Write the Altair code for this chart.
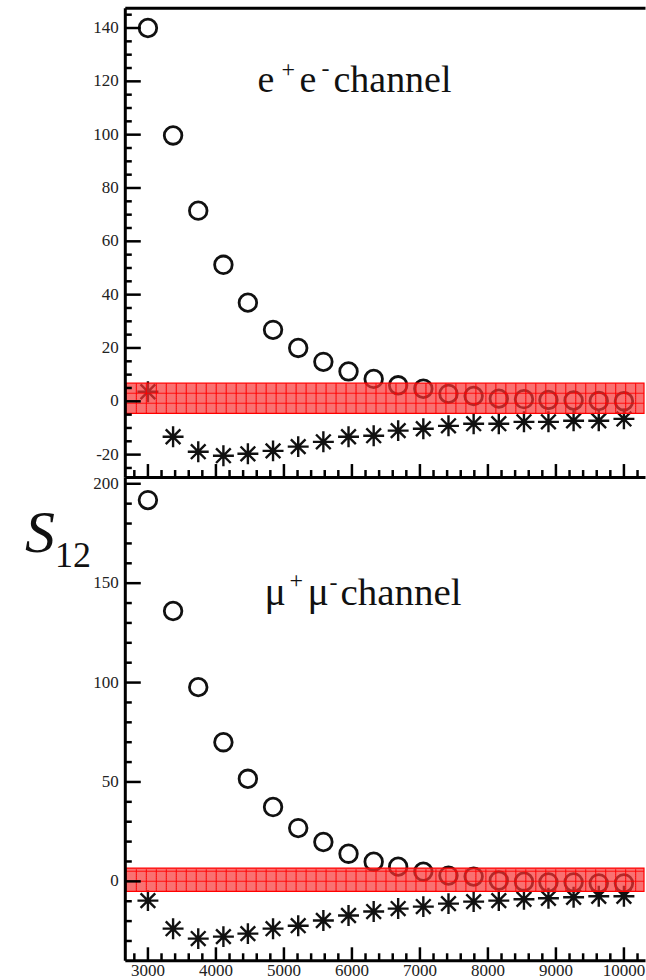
import altair as alt
import pandas as pd

# ---------------- data ----------------
X = [3000, 3370, 3740, 4110, 4470, 4840, 5210, 5580, 5950, 6320,
     6680, 7050, 7420, 7790, 8160, 8530, 8890, 9260, 9630, 10000]

EE_CIRCLE = [140, 99.7, 71.5, 51.2, 37, 26.8, 20, 14.8, 11.2, 8.4,
             6, 4.7, 2.8, 2, 1, 0.8, 0.5, 0.3, 0.1, 0]
EE_STAR = [3.6, -13.3, -18.9, -20.4, -19.7, -18.6, -17, -15.2, -13.3, -12.9,
           -11, -10.3, -9.2, -8.4, -8.4, -7.7, -7.7, -7.3, -7.3, -6.6]

MM_CIRCLE = [191.8, 136, 97.7, 70, 51.6, 37.4, 26.8, 19.8, 13.9, 9.9,
             7.4, 4.9, 2.9, 2.4, 0.4, -0.2, -0.5, -0.5, -1, -1]
MM_STAR = [-9.7, -23.8, -28.8, -27.8, -26.3, -23.8, -22.3, -19.7, -17.2, -15.2,
           -13.7, -12.7, -11.2, -10.2, -9.7, -9, -8.5, -8, -7.5, -7.5]

EE_BAND = [-4.5, 6.8]
MM_BAND = [-5.0, 6.7]

X_LABELS = [3000, 4000, 5000, 6000, 7000, 8000, 9000, 10000]
X_MINOR = [v for v in range(2800, 10301, 200) if v % 1000 != 0]
TOP_Y_LABELS = [-20, 0, 20, 40, 60, 80, 100, 120, 140]
TOP_Y_MINOR = [v for v in range(-25, 146, 5) if v % 20 != 0]
BOT_Y_LABELS = [0, 50, 100, 150, 200]
BOT_Y_MINOR = [v for v in range(-30, 201, 10) if v % 50 != 0]

X_DOMAIN = [2660, 10310]
TOP_Y_DOMAIN = [-28.4, 147.6]
BOT_Y_DOMAIN = [-39.7, 203.4]

W = 521
H_TOP = 470
H_BOT = 484

FONT = "Liberation Serif"
STAR = "M0,-1L0,1M-1,0L1,0M-0.7,-0.7L0.7,0.7M-0.7,0.7L0.7,-0.7"
CELL = 10  # spacing of the grid texture inside the red band (px)


def txt(s, x, y, size, style="normal"):
    return alt.Chart(pd.DataFrame({"t": [s]})).mark_text(
        text=s, font=FONT, fontSize=size, fontStyle=style, align="left",
        baseline="alphabetic", color="#111"
    ).encode(x=alt.value(x), y=alt.value(y))


def panel(circ, star, band, ydom, H, ylabels, yminor, bottom, texts):
    df = pd.DataFrame({"x": X, "c": circ, "s": star})
    bdf = pd.DataFrame({"lo": [band[0]], "hi": [band[1]]})
    xs = alt.Scale(domain=X_DOMAIN, nice=False, zero=False)
    ys = alt.Scale(domain=ydom, nice=False, zero=False)

    frame_kw = dict(ticks=False, labels=False, domainWidth=3, domainColor="#000",
                    grid=False, title=None, zindex=1)
    circles = alt.Chart(df).mark_point(
        shape="circle", size=310, filled=False, strokeWidth=2.8, color="#111", opacity=1
    ).encode(
        x=alt.X("x:Q", scale=xs,
                axis=alt.Axis(orient="bottom" if bottom else "top", **frame_kw)),
        y=alt.Y("c:Q", scale=ys, axis=alt.Axis(orient="left", **frame_kw)),
    )
    stars = alt.Chart(df).mark_point(
        shape=STAR, size=440, filled=False, strokeWidth=2.4, color="#111", opacity=1
    ).encode(
        x=alt.X("x:Q", scale=xs, axis=None),
        y=alt.Y("s:Q", scale=ys, axis=None),
    )
    layers = [circles, stars]
    if not bottom:
        edge = alt.Chart(df).mark_point(opacity=0, size=1).encode(
            x=alt.X("x:Q", scale=xs, axis=alt.Axis(orient="top", offset=-H, **frame_kw)),
            y=alt.Y("c:Q", scale=ys, axis=None),
        )
        layers.append(edge)

    # red band with a grid texture, drawn over the markers
    band_px = (band[1] - band[0]) / (ydom[1] - ydom[0]) * H
    layers.append(alt.Chart(bdf).mark_rect(
        fill="#f73535", fillOpacity=0.7, stroke="#ff0000", strokeWidth=1.2
    ).encode(
        x=alt.value(0), x2=alt.value(W - 1),
        y=alt.Y("lo:Q", scale=ys, axis=None), y2="hi:Q",
    ))
    # vertical texture lines: thin dashed strips stacked over the band height
    off = 1.0
    while off < band_px - 0.5:
        layers.append(alt.Chart(bdf).mark_rule(
            color="#ff0000", strokeWidth=2.1, strokeDash=[1.2, CELL - 1.2],
            yOffset=-off, opacity=0.85
        ).encode(
            x=alt.value(1), x2=alt.value(W - 1),
            y=alt.Y("lo:Q", scale=ys, axis=None),
        ))
        off += 2.0
    # horizontal texture lines
    k = 1
    while band_px - k * CELL >= 3:
        layers.append(alt.Chart(bdf).mark_rule(
            color="#ff0000", strokeWidth=1.1, yOffset=-k * CELL, opacity=0.85
        ).encode(
            x=alt.value(1), x2=alt.value(W - 1),
            y=alt.Y("lo:Q", scale=ys, axis=None),
        ))
        k += 1

    # inward ticks drawn through the scales
    xmaj = pd.DataFrame({"v": X_LABELS, "lab": [str(v) for v in X_LABELS]})
    xmin = pd.DataFrame({"v": X_MINOR})
    ymaj = pd.DataFrame({"v": ylabels, "lab": [str(v) for v in ylabels]})
    ymin = pd.DataFrame({"v": yminor})
    rule_kw = dict(color="#000", strokeWidth=2.5)
    layers.append(alt.Chart(xmaj).mark_rule(**rule_kw).encode(
        x=alt.X("v:Q", scale=xs, axis=None), y=alt.value(H - 13), y2=alt.value(H)))
    layers.append(alt.Chart(xmin).mark_rule(**rule_kw).encode(
        x=alt.X("v:Q", scale=xs, axis=None), y=alt.value(H - 7), y2=alt.value(H)))
    layers.append(alt.Chart(ymaj).mark_rule(**rule_kw).encode(
        y=alt.Y("v:Q", scale=ys, axis=None), x=alt.value(0), x2=alt.value(16)))
    layers.append(alt.Chart(ymin).mark_rule(**rule_kw).encode(
        y=alt.Y("v:Q", scale=ys, axis=None), x=alt.value(0), x2=alt.value(7)))

    # tick labels
    layers.append(alt.Chart(ymaj).mark_text(
        font=FONT, fontSize=17, color="#222", align="right", baseline="middle"
    ).encode(y=alt.Y("v:Q", scale=ys, axis=None), x=alt.value(-6), text="lab:N"))
    if bottom:
        layers.append(alt.Chart(xmaj).mark_text(
            font=FONT, fontSize=17, color="#222", align="center", baseline="top"
        ).encode(x=alt.X("v:Q", scale=xs, axis=None), y=alt.value(H + 3), text="lab:N"))

    return alt.layer(*layers, *texts).resolve_scale(
        x="independent", y="independent"
    ).properties(width=W, height=H)


top_texts = [
    txt("e", 133, 84, 38),
    txt("+", 157, 69, 24),
    txt("e", 175, 84, 38),
    txt("-", 197, 68, 24),
    txt("channel", 209, 84, 38),
]
bot_texts = [
    txt("\u03bc", 140, 128, 40),
    txt("+", 165, 111, 24),
    txt("\u03bc", 183, 128, 40),
    txt("-", 205, 113, 24),
    txt("channel", 216, 128, 39),
    txt("S", -100, 75, 60, "italic"),
    txt("12", -70, 90, 36),
]

top = panel(EE_CIRCLE, EE_STAR, EE_BAND, TOP_Y_DOMAIN, H_TOP, TOP_Y_LABELS,
            TOP_Y_MINOR, False, top_texts)
bot = panel(MM_CIRCLE, MM_STAR, MM_BAND, BOT_Y_DOMAIN, H_BOT, BOT_Y_LABELS,
            BOT_Y_MINOR, True, bot_texts)

chart = alt.vconcat(top, bot, spacing=0, bounds="flush").properties(
    padding={"left": 25, "top": 7, "right": 0, "bottom": 0},
    background="white",
).configure_view(strokeWidth=0)

chart.save("out.html", embed_options={"renderer": "svg", "actions": False})
